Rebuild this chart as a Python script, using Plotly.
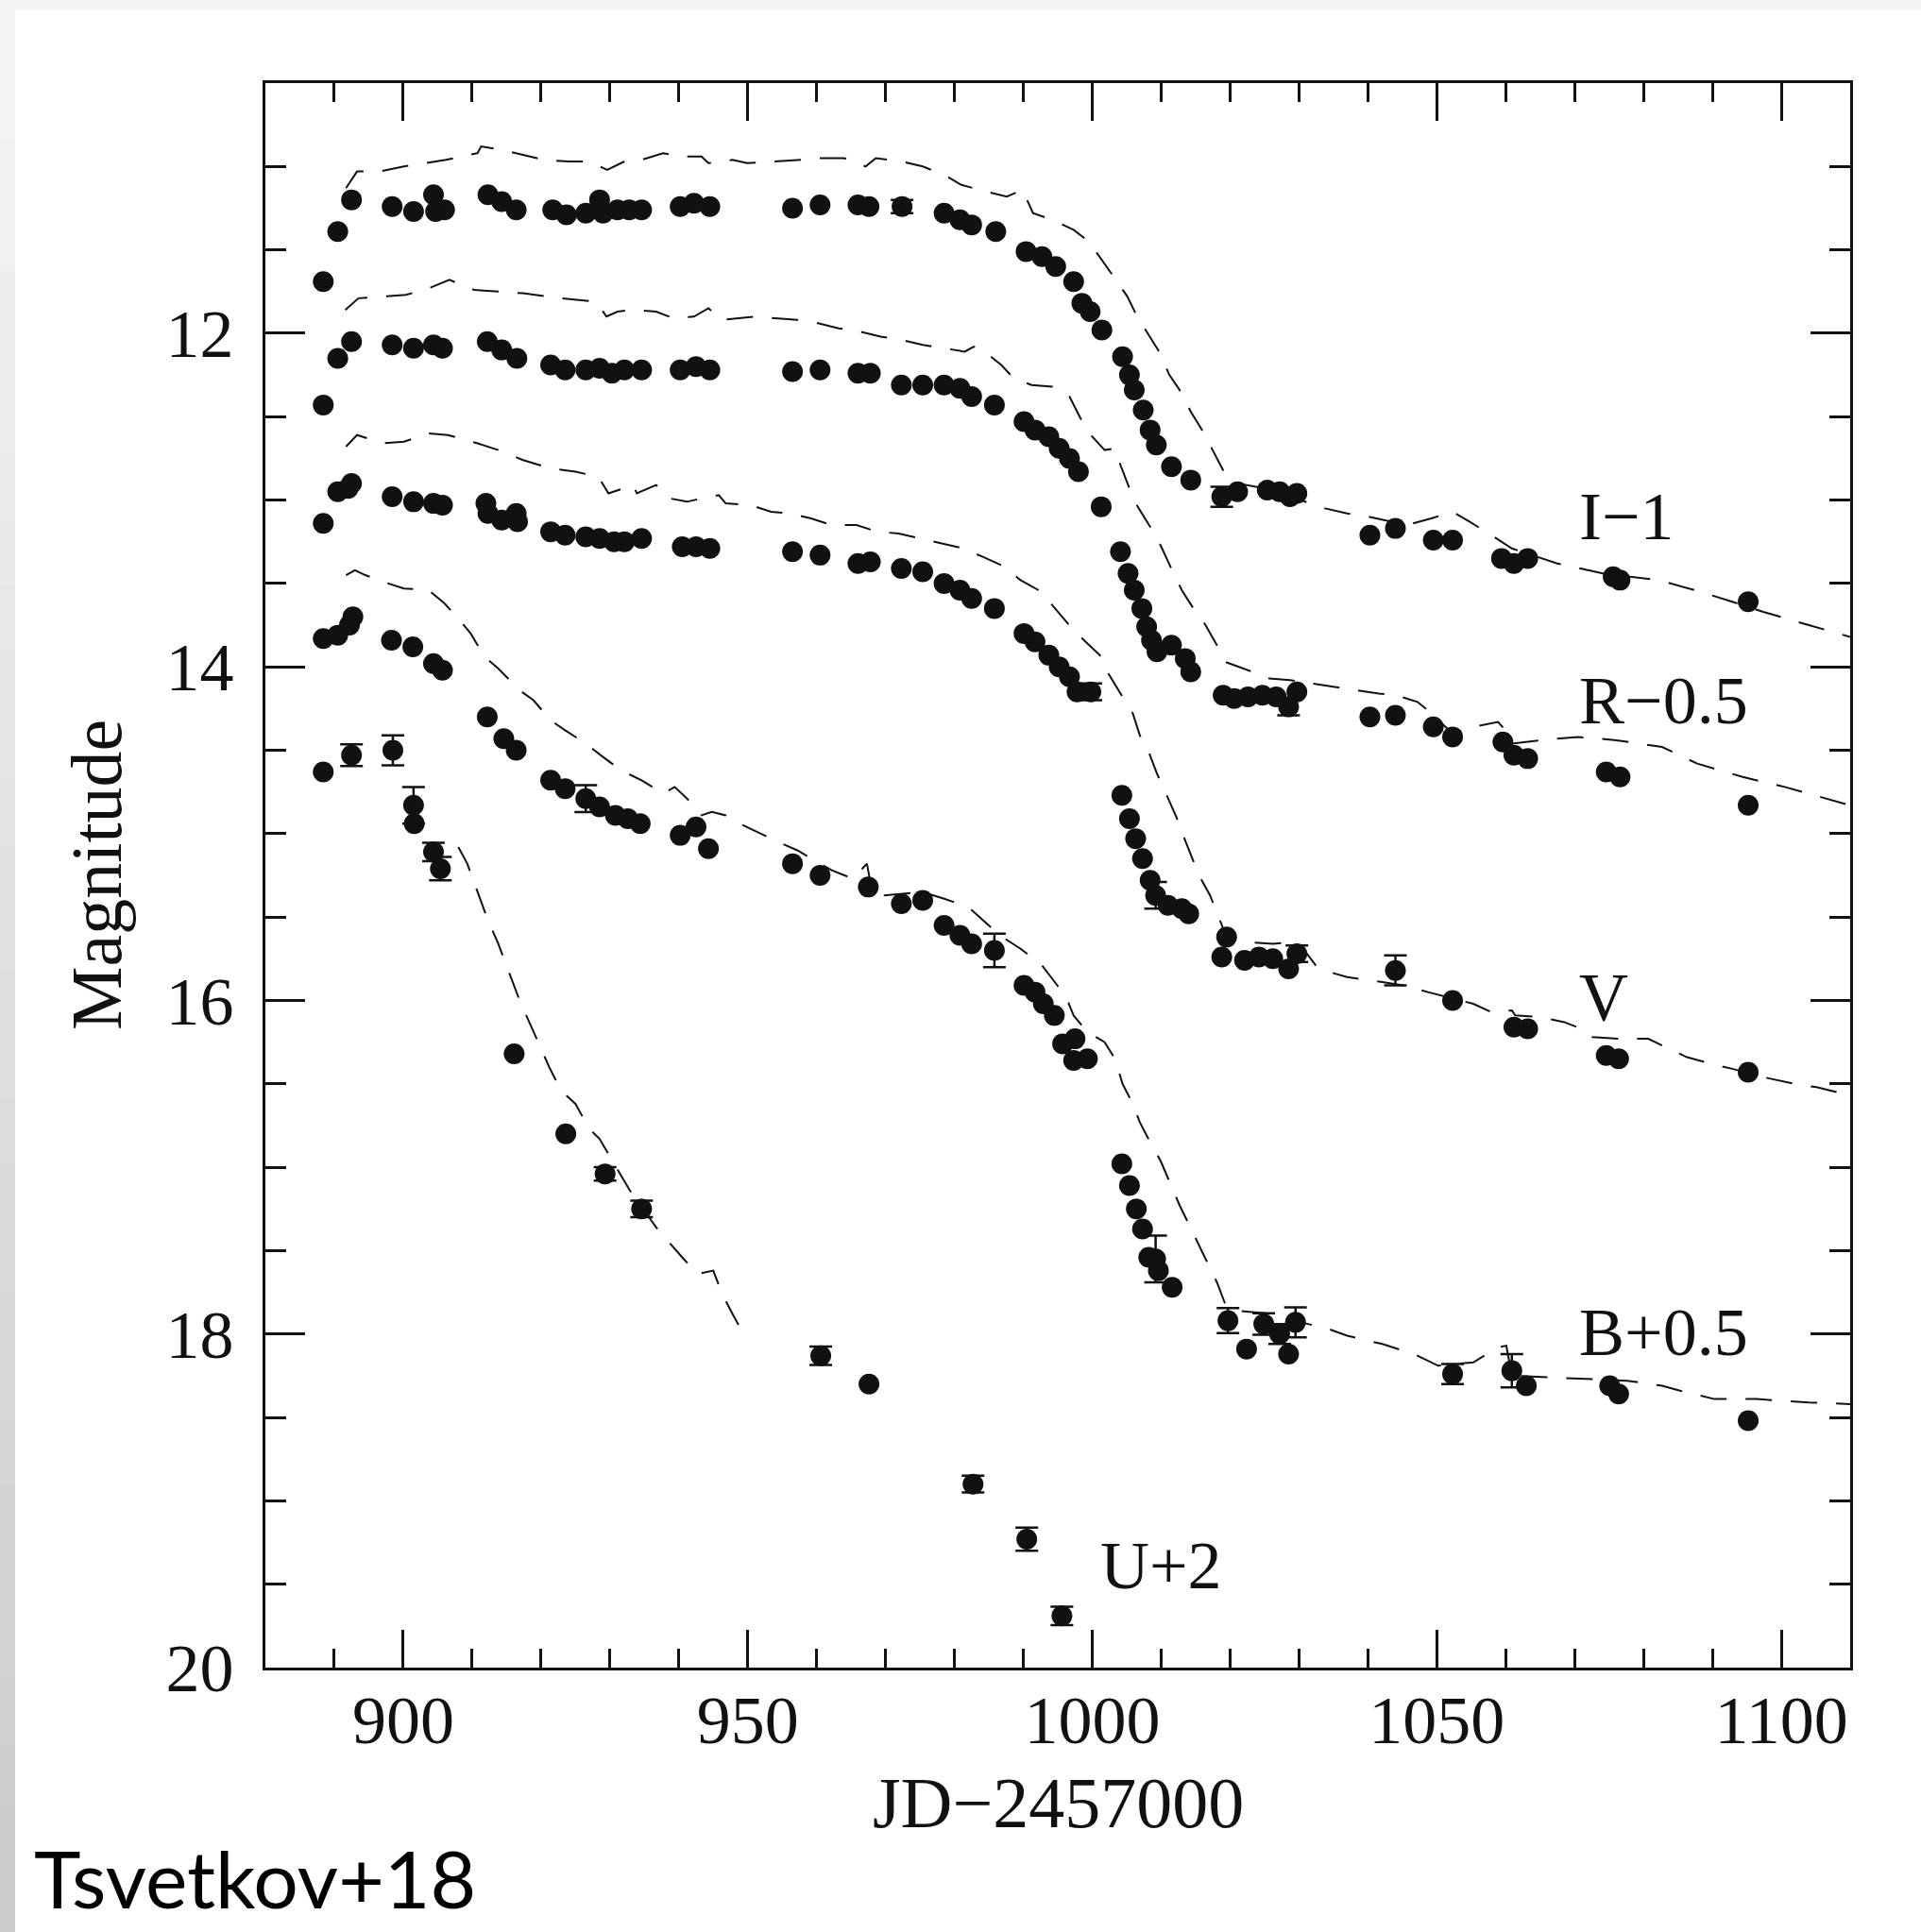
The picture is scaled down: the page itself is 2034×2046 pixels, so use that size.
import plotly.graph_objects as go

# ---------------------------------------------------------------------------
# Light curves (plotted magnitudes, band offsets already applied)
# ---------------------------------------------------------------------------
i_day = [888.4, 890.5, 892.5, 898.4, 901.5, 904.4, 904.7, 906.0, 912.3, 914.3, 916.4, 921.7, 923.7,
         926.5, 928.5, 929.0, 931.1, 932.8, 934.6, 940.2, 942.2, 944.5, 956.5, 960.5, 966.0, 967.6,
         972.4, 978.5, 980.8, 982.5, 986.0, 990.4, 992.7, 994.7, 997.3, 998.5, 999.7, 1001.4, 1004.4,
         1005.4, 1006.1, 1007.4, 1008.4, 1009.3, 1011.5, 1014.3, 1018.8, 1021.1, 1025.4, 1027.2,
         1028.7, 1029.7, 1040.3, 1044.0, 1049.5, 1052.3, 1059.4, 1061.2, 1063.2, 1075.6, 1076.6, 1095.2]
i_mag = [11.69, 11.39, 11.20, 11.24, 11.27, 11.17, 11.27, 11.26, 11.17, 11.21, 11.26, 11.26, 11.29,
         11.28, 11.20, 11.28, 11.26, 11.26, 11.26, 11.24, 11.22, 11.24, 11.25, 11.23, 11.23, 11.24,
         11.24, 11.28, 11.32, 11.35, 11.39, 11.51, 11.54, 11.60, 11.69, 11.82, 11.87, 11.98, 12.14,
         12.25, 12.34, 12.46, 12.58, 12.67, 12.80, 12.88, 12.98, 12.95, 12.94, 12.95,
         12.98, 12.96, 13.21, 13.17, 13.24, 13.24, 13.35, 13.38, 13.35, 13.46, 13.48, 13.61]
i_err = {972.4: 0.04, 1018.8: 0.06}

r_day = [888.4, 890.5, 892.5, 898.4, 901.5, 904.4, 905.7, 912.2, 914.3, 916.5, 921.4, 923.5, 926.5,
         928.5, 930.3, 932.1, 934.6, 940.2, 942.5, 944.5, 956.5, 960.5, 966.0, 967.8, 972.3, 975.4,
         978.5, 980.8, 982.5, 985.8, 990.1, 991.7, 993.7, 995.2, 996.7, 998.0, 1001.3, 1004.1, 1005.2,
         1006.1, 1007.2, 1007.9, 1008.6, 1009.4, 1011.5, 1013.5, 1014.3, 1019.0, 1020.6, 1022.6,
         1024.7, 1026.7, 1028.5, 1029.7, 1040.3, 1044.0, 1049.5, 1052.3, 1059.6, 1061.2, 1063.2,
         1074.6, 1076.6, 1095.2]
r_mag = [12.43, 12.15, 12.05, 12.07, 12.09, 12.07, 12.09, 12.05, 12.10, 12.15, 12.19, 12.22, 12.22,
         12.21, 12.24, 12.22, 12.22, 12.22, 12.20, 12.22, 12.23, 12.22, 12.24, 12.24, 12.31, 12.31,
         12.31, 12.33, 12.38, 12.43, 12.53, 12.58, 12.62, 12.69, 12.75, 12.83, 13.04, 13.31, 13.44,
         13.54, 13.65, 13.76, 13.84, 13.91, 13.87, 13.95, 14.03, 14.17, 14.19, 14.18,
         14.17, 14.18, 14.24, 14.15, 14.30, 14.29, 14.36, 14.42, 14.45, 14.53, 14.55,
         14.63, 14.66, 14.83]
r_err = {1028.5: 0.05}

v_day = [888.4, 890.5, 892.0, 892.5, 898.4, 901.5, 904.4, 905.7, 912.0, 912.3, 914.3, 916.4, 916.6,
         921.4, 923.5, 926.5, 928.5, 930.6, 932.1, 934.6, 940.5, 942.5, 944.5, 956.5, 960.5, 966.0,
         967.8, 972.3, 975.4, 978.5, 980.8, 982.5, 985.8, 990.1, 991.7, 993.7, 995.2, 996.7, 997.8,
         999.8, 1004.3, 1005.4, 1006.3, 1007.3, 1008.4, 1009.2, 1011.0, 1013.0, 1014.0, 1018.8,
         1019.5, 1022.1, 1024.2, 1026.2, 1028.5, 1029.7, 1044.0, 1052.3, 1061.2, 1063.2, 1074.6,
         1076.4, 1095.2]
v_mag = [13.14, 12.95, 12.93, 12.90, 12.98, 13.01, 13.02, 13.03, 13.02, 13.08, 13.12, 13.08, 13.13,
         13.19, 13.21, 13.22, 13.23, 13.25, 13.25, 13.23, 13.28, 13.28, 13.29, 13.31, 13.33, 13.38,
         13.37, 13.41, 13.43, 13.50, 13.54, 13.59, 13.65, 13.80, 13.85, 13.93, 14.00, 14.06, 14.15,
         14.15, 14.77, 14.91, 15.03, 15.15, 15.28, 15.37, 15.43, 15.45, 15.48, 15.74,
         15.62, 15.76, 15.74, 15.75, 15.81, 15.72, 15.82, 16.00, 16.16, 16.17, 16.33,
         16.35, 16.43]
v_err = {999.8: 0.05, 1009.2: 0.08, 1029.7: 0.05, 1044.0: 0.09}

b_day = [888.4, 890.5, 892.2, 892.7, 898.3, 901.4, 904.4, 905.7, 912.2, 914.6, 916.4, 921.4, 923.5,
         926.5, 928.5, 930.8, 932.6, 934.4, 940.2, 942.5, 944.3, 956.5, 960.5, 967.5, 972.3, 975.4,
         978.5, 980.8, 982.5, 985.8, 990.1, 991.7, 992.9, 994.5, 995.7, 997.5, 997.3, 999.3, 1004.3,
         1005.4, 1006.4, 1007.3, 1008.2, 1009.2, 1009.6, 1011.6, 1019.7, 1022.4, 1024.9, 1027.2,
         1028.5, 1029.5, 1052.3, 1060.9, 1063.0, 1075.1, 1076.4, 1095.2]
b_mag = [13.83, 13.81, 13.75, 13.70, 13.84, 13.88, 13.98, 14.02, 14.30, 14.43, 14.50, 14.68, 14.73,
         14.79, 14.84, 14.89, 14.91, 14.94, 15.01, 14.96, 15.09, 15.18, 15.25, 15.32, 15.42, 15.40,
         15.55, 15.61, 15.66, 15.70, 15.91, 15.95, 16.02, 16.09, 16.26, 16.23, 16.36, 16.35, 16.98,
         17.11, 17.25, 17.37, 17.54, 17.55, 17.62, 17.72, 17.92, 18.09, 17.94, 18.00,
         18.12, 17.93, 18.24, 18.22, 18.31, 18.31, 18.36, 18.52]
b_err = {926.5: 0.08, 985.8: 0.10, 1009.2: 0.14, 1019.7: 0.075, 1024.9: 0.065, 1027.2: 0.06,
         1029.5: 0.09, 1052.3: 0.06, 1060.9: 0.10}

u_day = [888.4, 892.5, 898.5, 901.5, 901.6, 904.4, 905.4, 916.1, 923.6, 929.3, 934.6, 960.6, 967.6,
         982.7, 990.5, 995.6]
u_mag = [14.63, 14.53, 14.50, 14.83, 14.94, 15.11, 15.21, 16.32, 16.80, 17.04, 17.25, 18.13, 18.30,
         18.90, 19.23, 19.69]
u_err = {892.5: 0.065, 898.5: 0.09, 901.5: 0.11, 904.4: 0.055, 905.4: 0.07, 929.3: 0.04,
         934.6: 0.05, 960.6: 0.055, 982.7: 0.05, 990.5: 0.07, 995.6: 0.055}

# ---------------------------------------------------------------------------
# Template curves (dashed)
# ---------------------------------------------------------------------------
i_model_day = [891.7, 893.3, 896.6, 900.1, 906.2, 910.8, 911.3, 914.3, 917.4, 920.4, 924.0, 927.0,
               929.6, 932.1, 934.6, 937.7, 940.7, 943.3, 944.3, 947.8, 949.9, 954.4, 957.7, 960.7,
               964.0, 967.1, 968.6, 972.4, 975.4, 978.5, 981.0, 984.6, 987.6, 989.9, 991.4, 994.2,
               997.3, 999.5, 1001.6, 1003.1, 1005.1, 1006.4, 1008.2, 1009.7, 1011.2, 1013.0, 1014.3,
               1015.8, 1017.6, 1019.1, 1021.1, 1026.2, 1030.2, 1033.8, 1037.0, 1040.1, 1045.7,
               1049.2, 1052.3, 1054.8, 1057.9, 1060.9, 1067.5, 1074.1, 1082.2, 1088.3, 1092.9,
               1097.4, 1104.0, 1110.0]
i_model_mag = [11.13, 11.03, 11.03, 11.00, 10.96, 10.92, 10.88, 10.90, 10.93, 10.96, 10.97, 10.97,
               11.02, 10.97, 10.96, 10.92, 10.94, 10.94, 10.98, 10.96, 10.98, 10.97, 10.96, 10.95,
               10.95, 11.00, 10.95, 10.97, 11.00, 11.05, 11.11, 11.15, 11.18, 11.14, 11.28, 11.32,
               11.38, 11.45, 11.57, 11.66, 11.78, 11.89, 12.01, 12.11, 12.25, 12.36, 12.47,
               12.57, 12.71, 12.83, 12.90, 12.94, 13.00, 13.05, 13.08, 13.10, 13.15,
               13.11, 13.07, 13.13, 13.21, 13.29, 13.38, 13.44, 13.48, 13.55, 13.61,
               13.67, 13.75, 13.82]

r_model_day = [891.6, 893.5, 897.1, 900.4, 903.7, 906.7, 910.3, 917.4, 923.0, 928.0, 929.5, 931.1,
               933.1, 936.7, 939.2, 942.2, 944.3, 946.3, 950.9, 957.2, 960.2, 963.2, 966.3, 969.3,
               972.4, 975.4, 978.5, 981.5, 982.8, 984.1, 986.8, 988.6, 991.2, 994.2, 996.7, 998.3,
               999.8, 1001.8, 1003.3, 1004.1, 1005.4, 1006.6, 1008.4, 1009.9, 1011.7, 1013.0, 1015.0,
               1016.3, 1018.1, 1019.3, 1022.6, 1025.7, 1028.7, 1032.0, 1035.0, 1038.1, 1041.6,
               1044.1, 1047.2, 1048.7, 1052.3, 1055.3, 1058.9, 1060.4, 1060.9, 1065.0, 1070.5,
               1076.1, 1082.7, 1087.8, 1094.4, 1100.5, 1108.1, 1110.0]
r_model_mag = [11.86, 11.79, 11.78, 11.77, 11.73, 11.68, 11.74, 11.76, 11.79, 11.81, 11.90, 11.87,
               11.86, 11.87, 11.91, 11.90, 11.85, 11.92, 11.90, 11.92, 11.94, 11.97, 11.99, 12.02,
               12.04, 12.07, 12.09, 12.11, 12.08, 12.10, 12.19, 12.27, 12.31, 12.32, 12.38, 12.51,
               12.61, 12.70, 12.69, 12.79, 12.93, 13.04, 13.16, 13.27, 13.43, 13.54, 13.67,
               13.74, 13.87, 13.97, 14.02, 14.07, 14.08, 14.10, 14.12, 14.14, 14.16,
               14.17, 14.21, 14.26, 14.40, 14.36, 14.33, 14.40, 14.46, 14.44, 14.42,
               14.44, 14.48, 14.58, 14.66, 14.72, 14.81, 14.83]

v_model_day = [891.7, 893.3, 897.1, 900.1, 903.7, 906.5, 910.8, 913.8, 917.4, 921.4, 925.0, 928.3,
               929.8, 933.4, 933.9, 936.7, 938.7, 941.2, 943.3, 945.8, 946.8, 950.4, 953.4, 956.1,
               959.2, 962.2, 965.8, 968.8, 971.9, 974.9, 978.0, 981.3, 984.1, 986.8, 989.6, 992.2,
               994.2, 997.3, 998.8, 1001.1, 1001.6, 1002.6, 1004.4, 1005.9, 1006.9, 1008.2, 1009.4,
               1010.7, 1012.2, 1013.2, 1014.5, 1015.5, 1017.1, 1018.3, 1019.3, 1022.6, 1026.2,
               1029.2, 1030.8, 1032.8, 1037.0, 1042.1, 1045.2, 1048.7, 1052.3, 1055.3, 1057.9,
               1060.9, 1061.4, 1065.0, 1068.5, 1071.6, 1072.6, 1076.6, 1080.7, 1083.2, 1086.3,
               1089.8, 1092.9, 1097.4, 1102.0, 1105.1, 1110.0]
v_model_mag = [12.68, 12.61, 12.66, 12.65, 12.60, 12.61, 12.66, 12.70, 12.76, 12.81, 12.83, 12.86,
               12.96, 12.91, 12.96, 12.91, 12.99, 13.01, 12.99, 12.97, 13.02, 13.03, 13.07, 13.08,
               13.11, 13.15, 13.15, 13.19, 13.20, 13.23, 13.26, 13.29, 13.34, 13.39, 13.48, 13.54,
               13.63, 13.78, 13.84, 13.93, 13.99, 14.06, 14.18, 14.28, 14.41, 14.51, 14.64,
               14.76, 14.90, 15.01, 15.14, 15.25, 15.37, 15.49, 15.60, 15.65, 15.66,
               15.65, 15.70, 15.81, 15.86, 15.89, 15.91, 15.95, 15.99, 16.02, 16.07,
               16.06, 16.09, 16.10, 16.13, 16.18, 16.22, 16.23, 16.23, 16.28, 16.34,
               16.38, 16.41, 16.46, 16.50, 16.52, 16.57]

b_model_day = [891.7, 893.0, 894.5, 897.1, 900.1, 903.7, 906.0, 908.2, 909.8, 911.8, 913.8, 916.9,
               918.9, 921.4, 923.5, 926.5, 929.0, 931.6, 934.6, 937.7, 939.4, 941.2, 943.3, 944.8,
               946.8, 948.3, 951.9, 954.4, 957.2, 959.2, 962.2, 965.3, 967.3, 967.8, 969.8, 975.4,
               978.5, 982.0, 984.1, 986.6, 989.6, 992.7, 994.2, 996.2, 997.3, 999.3, 1001.8, 1003.3,
               1004.4, 1005.9, 1006.9, 1008.4, 1009.9, 1011.5, 1012.7, 1014.0, 1015.3, 1016.8,
               1018.1, 1019.3, 1021.1, 1026.2, 1030.3, 1034.3, 1037.0, 1042.1, 1046.7, 1050.2,
               1055.3, 1058.9, 1060.1, 1060.9, 1066.5, 1072.1, 1077.6, 1082.7, 1085.3, 1090.3,
               1096.4, 1104.0, 1110.0]
b_model_mag = [13.45, 13.42, 13.45, 13.49, 13.53, 13.54, 13.62, 13.72, 13.80, 13.94, 14.01, 14.14,
               14.20, 14.32, 14.38, 14.46, 14.54, 14.62, 14.68, 14.76, 14.72, 14.79, 14.89, 14.87,
               14.89, 14.93, 15.00, 15.05, 15.10, 15.15, 15.22, 15.27, 15.18, 15.29, 15.37, 15.35,
               15.39, 15.44, 15.52, 15.61, 15.69, 15.79, 15.87, 15.98, 16.09, 16.19, 16.25, 16.35,
               16.50, 16.62, 16.73, 16.85, 16.96, 17.11, 17.23, 17.34, 17.45, 17.58,
               17.69, 17.82, 17.86, 17.88, 17.93, 17.97, 18.01, 18.06, 18.12, 18.19,
               18.17, 18.08, 18.07, 18.25, 18.26, 18.27, 18.28, 18.31, 18.34, 18.39,
               18.39, 18.41, 18.42]

u_model_day = [908.0, 909.3, 910.8, 912.3, 913.8, 915.3, 916.9, 918.4, 919.9, 921.2, 922.9, 925.0,
               927.0, 928.5, 932.9, 936.7, 940.7, 942.8, 945.0, 946.3, 947.8, 949.0]
u_model_mag = [15.08, 15.18, 15.35, 15.52, 15.66, 15.83, 16.00, 16.14, 16.28, 16.40, 16.54, 16.62,
               16.77, 16.83, 17.14, 17.36, 17.55, 17.64, 17.62, 17.76, 17.88, 17.97]

# Band labels: text, left edge (day), vertical centre (mag)
band_labels = ["I\u22121", "R\u22120.5", "V", "B+0.5", "U+2"]
band_label_day = [1070.4, 1070.4, 1070.4, 1070.4, 1000.9]
band_label_mag = [13.10, 14.20, 15.98, 17.99, 19.39]

# ---------------------------------------------------------------------------
# Figure
# ---------------------------------------------------------------------------
W, H = 2034, 2046
ML, MR, MT, MB = 281, 75, 88, 280
PW, PH = W - ML - MR, H - MT - MB

INK = "#111111"
SERIF = "Liberation Serif"


def paper_x(px):
    return (px - ML) / PW


def paper_y(py):
    return (H - MB - py) / PH


fig = go.Figure()

bands = [
    (i_day, i_mag, i_err, i_model_day, i_model_mag),
    (r_day, r_mag, r_err, r_model_day, r_model_mag),
    (v_day, v_mag, v_err, v_model_day, v_model_mag),
    (b_day, b_mag, b_err, b_model_day, b_model_mag),
    (u_day, u_mag, u_err, u_model_day, u_model_mag),
]

for days, mags, errs, mdays, mmags in bands:
    fig.add_trace(go.Scatter(
        x=mdays, y=mmags, mode="lines",
        line=dict(color=INK, width=2, dash="28px,20px"),
        hoverinfo="skip", showlegend=False,
    ))
    plain = [(d, m) for d, m in zip(days, mags) if d not in errs]
    barred = [(d, m, errs[d]) for d, m in zip(days, mags) if d in errs]
    fig.add_trace(go.Scatter(
        x=[p[0] for p in plain], y=[p[1] for p in plain], mode="markers",
        marker=dict(size=22, color=INK, line=dict(width=0)),
        showlegend=False,
    ))
    if barred:
        fig.add_trace(go.Scatter(
            x=[p[0] for p in barred], y=[p[1] for p in barred], mode="markers",
            marker=dict(size=22, color=INK, line=dict(width=0)),
            error_y=dict(type="data", array=[p[2] for p in barred], visible=True,
                         color=INK, thickness=2.5, width=12),
            showlegend=False,
        ))

for text, d, m in zip(band_labels, band_label_day, band_label_mag):
    fig.add_annotation(x=d, y=m, xref="x", yref="y", text=text, showarrow=False,
                       xanchor="left", yanchor="middle",
                       font=dict(family=SERIF, size=72, color=INK))

# Axis titles
fig.add_annotation(x=0.5, y=paper_y(1909), xref="paper", yref="paper", text="JD\u22122457000",
                   showarrow=False, xanchor="center", yanchor="middle",
                   font=dict(family=SERIF, size=76, color=INK))
fig.add_annotation(x=paper_x(102), y=0.5, xref="paper", yref="paper", text="Magnitude",
                   showarrow=False, textangle=-90, xanchor="center", yanchor="middle",
                   font=dict(family=SERIF, size=76, color=INK))

# Citation tag
fig.add_annotation(x=paper_x(34), y=paper_y(1988), xref="paper", yref="paper", text="Tsvetkov+18",
                   showarrow=False, xanchor="left", yanchor="middle",
                   font=dict(family="Lato", size=84, color="#000000"))

# Slide frame: pale strip across the top and a shaded strip down the left side
shapes = [dict(type="rect", xref="paper", yref="paper", layer="below",
               x0=paper_x(0), x1=paper_x(W), y0=paper_y(0), y1=paper_y(10),
               fillcolor="#f3f3f3", line=dict(width=0))]
n_steps = 30
for k in range(n_steps):
    y_top = 10 + k * (H - 10) / n_steps
    y_bot = 10 + (k + 1) * (H - 10) / n_steps + 1
    g = int(round(244 - (244 - 204) * k / (n_steps - 1)))
    shapes.append(dict(type="rect", xref="paper", yref="paper", layer="below",
                       x0=paper_x(0), x1=paper_x(16), y0=paper_y(y_bot), y1=paper_y(y_top),
                       fillcolor=f"rgb({g},{g},{g})", line=dict(width=0)))

axis_common = dict(
    showgrid=False, zeroline=False, showline=True, linecolor=INK, linewidth=3,
    mirror="ticks", ticks="inside", tickcolor=INK, tickwidth=2.5,
    tickfont=dict(family=SERIF, size=72, color=INK),
)

fig.update_layout(
    width=W, height=H, autosize=False,
    margin=dict(l=ML, r=MR, t=MT, b=MB, pad=0),
    paper_bgcolor="white", plot_bgcolor="white",
    font=dict(family=SERIF, color=INK),
    shapes=shapes,
    xaxis=dict(range=[880, 1110], tick0=0, dtick=50, ticklen=40, ticklabelstandoff=-9,
               minor=dict(ticks="inside", tick0=0, dtick=10, ticklen=20, tickwidth=2.5,
                          tickcolor=INK, showgrid=False),
               **axis_common),
    yaxis=dict(range=[20, 10.5], tick0=0, dtick=2, ticklen=42, ticklabelstandoff=16,
               minor=dict(ticks="inside", tick0=0, dtick=0.5, ticklen=22, tickwidth=2.5,
                          tickcolor=INK, showgrid=False),
               **axis_common),
)

fig.write_html("out.html")
